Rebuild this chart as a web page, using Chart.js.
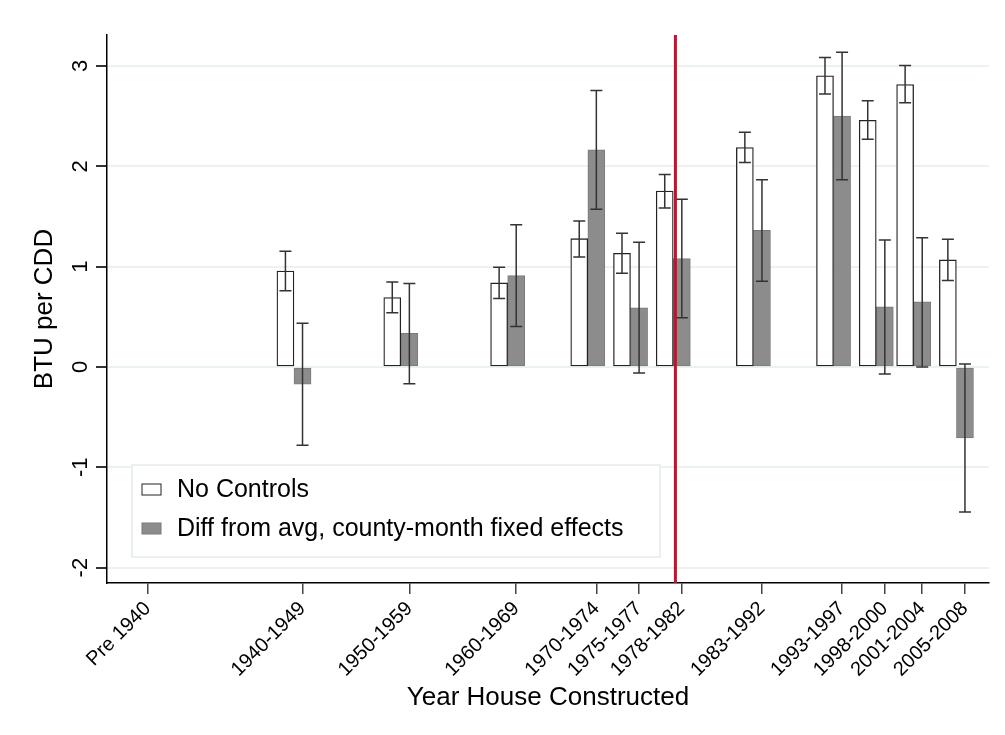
<!DOCTYPE html>
<html>
<head>
<meta charset="utf-8">
<script src="https://cdn.jsdelivr.net/npm/chart.js@4.4.1/dist/chart.umd.min.js"></script>
<style>
  html, body { margin: 0; padding: 0; background: #fff; }
  #wrap { width: 1005px; height: 735px; }
</style>
</head>
<body>
<div id="wrap"><canvas id="chartbar"></canvas></div>
<script>
// construction periods, plotted at their mid year
const periods = ["Pre 1940", "1940-1949", "1950-1959", "1960-1969", "1970-1974", "1975-1977",
                 "1978-1982", "1983-1992", "1993-1997", "1998-2000", "2001-2004", "2005-2008"];
const periodMid = [1930, 1944.5, 1954.5, 1964.5, 1972, 1976, 1980, 1987.5, 1995, 1999, 2002.5, 2006.5];

// No Controls
const noControls   = [null, 0.957, 0.693, 0.838, 1.279, 1.133, 1.753, 2.187, 2.903, 2.458, 2.816, 1.067];
const noControlsLo = [null, 0.759, 0.540, 0.683, 1.096, 0.934, 1.584, 2.038, 2.720, 2.269, 2.634, 0.862];
const noControlsHi = [null, 1.153, 0.848, 0.994, 1.454, 1.332, 1.918, 2.339, 3.085, 2.654, 3.005, 1.272];

// Diff from avg, county-month fixed effects
const fixedEff   = [null, -0.172, 0.335, 0.911, 2.164, 0.590, 1.080, 1.362, 2.502, 0.600, 0.649, -0.706];
const fixedEffLo = [null, -0.780, -0.166, 0.404, 1.571, -0.060, 0.490, 0.855, 1.866, -0.070, 0.000, -1.445];
const fixedEffHi = [null, 0.437, 0.832, 1.418, 2.757, 1.243, 1.673, 1.866, 3.138, 1.265, 1.289, 0.030];

const yTicks = [-2, -1, 0, 1, 2, 3];
const cutoffYear = 1979.4;

const FONT = "'Liberation Sans', Arial, sans-serif";
const whiteShift = 1.6;   // white bar sits just left of the grey one

const errLo = [noControlsLo, fixedEffLo];
const errHi = [noControlsHi, fixedEffHi];

const toPoints = (vals, shift) => periodMid.map((x, i) => ({ x: x - shift, y: vals[i] }));

const extras = {
  id: 'extras',
  afterDatasetsDraw(chart) {
    const { ctx, chartArea, scales } = chart;
    const y = scales.y;
    // error bars
    ctx.save();
    ctx.strokeStyle = '#333';
    ctx.lineWidth = 1.5;
    chart.data.datasets.forEach((ds, d) => {
      const meta = chart.getDatasetMeta(d);
      meta.data.forEach((bar, i) => {
        if (errLo[d][i] == null) return;
        const x = bar.x;
        const y1 = y.getPixelForValue(errLo[d][i]);
        const y2 = y.getPixelForValue(errHi[d][i]);
        ctx.beginPath();
        ctx.moveTo(x, y1); ctx.lineTo(x, y2);
        ctx.moveTo(x - 6, y1); ctx.lineTo(x + 6, y1);
        ctx.moveTo(x - 6, y2); ctx.lineTo(x + 6, y2);
        ctx.stroke();
      });
    });
    // cutoff line
    const xc = scales.x.getPixelForValue(cutoffYear);
    ctx.strokeStyle = '#c8102e';
    ctx.lineWidth = 3;
    ctx.beginPath();
    ctx.moveTo(xc, chartArea.top);
    ctx.lineTo(xc, chartArea.bottom);
    ctx.stroke();
    ctx.restore();
  },
  afterDraw(chart) {
    const { ctx, chartArea, scales } = chart;
    ctx.save();
    // vertical y tick labels
    ctx.fillStyle = '#000';
    ctx.font = '22px ' + FONT;
    ctx.textAlign = 'center';
    ctx.textBaseline = 'middle';
    yTicks.forEach(t => {
      ctx.save();
      ctx.translate(chartArea.left - 26, scales.y.getPixelForValue(t));
      ctx.rotate(-Math.PI / 2);
      ctx.fillText(String(t), 0, 0);
      ctx.restore();
    });
    // legend box
    const lx = chartArea.left + 25, ly = chartArea.bottom - 118;
    ctx.fillStyle = '#fff';
    ctx.fillRect(lx, ly, 528, 92);
    ctx.strokeStyle = '#e4ecee';
    ctx.lineWidth = 1.5;
    ctx.strokeRect(lx, ly, 528, 92);
    const rows = chart.data.datasets;
    rows.forEach((ds, k) => {
      const cy = ly + 24 + k * 39;
      ctx.fillStyle = ds.backgroundColor;
      ctx.fillRect(lx + 10, cy - 5, 19, 11);
      ctx.strokeStyle = ds.borderColor;
      ctx.lineWidth = 1;
      ctx.strokeRect(lx + 10, cy - 5, 19, 11);
      ctx.fillStyle = '#000';
      ctx.font = '25px ' + FONT;
      ctx.textAlign = 'left';
      ctx.textBaseline = 'middle';
      ctx.fillText(ds.label, lx + 45, cy + 1);
    });
    ctx.restore();
  }
};

const chart = new Chart(document.getElementById('chartbar'), {
  type: 'bar',
  data: {
    datasets: [
      {
        label: 'No Controls',
        data: toPoints(noControls, whiteShift),
        backgroundColor: '#ffffff',
        borderColor: '#222',
        borderWidth: 1.3,
        borderSkipped: false,
        barThickness: 17,
        grouped: false
      },
      {
        label: 'Diff from avg, county-month fixed effects',
        data: toPoints(fixedEff, 0),
        backgroundColor: '#8c8c8c',
        borderColor: '#7a7a7a',
        borderWidth: 1,
        borderSkipped: false,
        barThickness: 17,
        grouped: false
      }
    ]
  },
  options: {
    responsive: true,
    maintainAspectRatio: false,
    animation: false,
    layout: { padding: { top: 35, right: 16, left: 0, bottom: 0 } },
    plugins: { legend: { display: false }, tooltip: { enabled: false } },
    scales: {
      x: {
        type: 'linear',
        offset: false,
        min: 1926.2,
        max: 2008.75,
        afterBuildTicks: s => { s.ticks = periodMid.map(v => ({ value: v })); },
        afterFit: s => { s.height = 152; },
        ticks: {
          autoSkip: false,
          minRotation: 45,
          maxRotation: 45,
          color: '#000',
          font: { family: FONT, size: 20 },
          callback: (v, i) => periods[i]
        },
        grid: { offset: false, drawOnChartArea: false, tickLength: 11, tickColor: '#444', lineWidth: 1.5 },
        border: { color: '#000', width: 1.5 },
        title: {
          display: true,
          text: 'Year House Constructed',
          color: '#000',
          font: { family: FONT, size: 26 },
          padding: { top: 0, bottom: 22 }
        }
      },
      y: {
        min: -2.153,
        max: 3.309,
        afterBuildTicks: s => { s.ticks = yTicks.map(v => ({ value: v })); },
        afterFit: s => { s.width = 107; },
        ticks: { display: false },
        grid: { color: '#eaf2f3', lineWidth: 2, tickLength: 11, tickColor: '#333' },
        border: { color: '#000', width: 1.5 },
        title: {
          display: true,
          text: 'BTU per CDD',
          color: '#000',
          font: { family: FONT, size: 26 },
          padding: { top: 29, bottom: 0 }
        }
      }
    }
  },
  plugins: [extras]
});
</script>
</body>
</html>
